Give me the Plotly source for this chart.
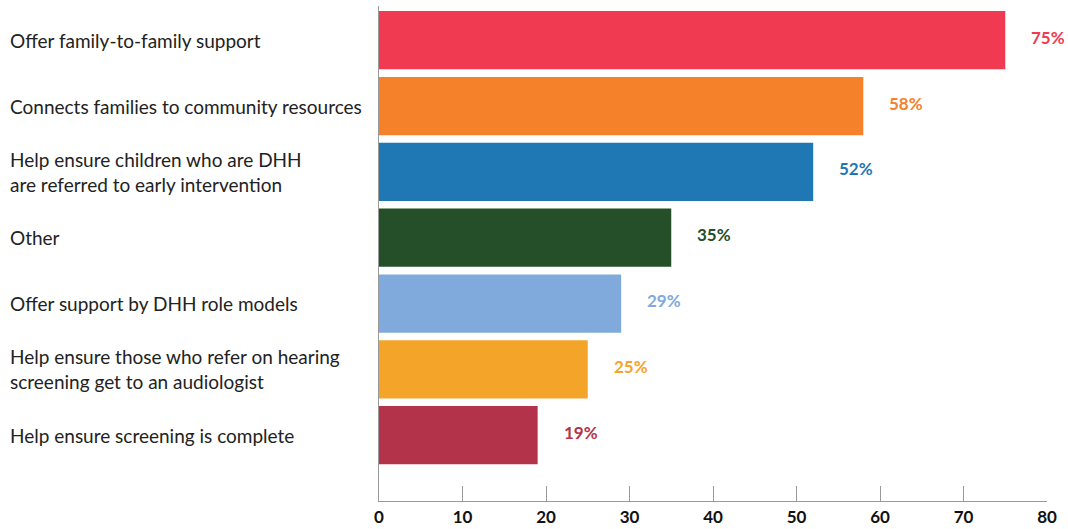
import plotly.graph_objects as go

categories = [
    "Offer family-to-family support",
    "Connects families to community resources",
    "Help ensure children who are DHH<br>are referred to early intervention",
    "Other",
    "Offer support by DHH role models",
    "Help ensure those who refer on hearing<br>screening get to an audiologist",
    "Help ensure screening is complete",
]
values = [75, 58, 52, 35, 29, 25, 19]
value_labels = ["75%", "58%", "52%", "35%", "29%", "25%", "19%"]
colors = ["#EF3A51", "#F5822B", "#1F77B4", "#254F28", "#80AADC", "#F5A42A", "#B3334A"]
x_ticks = [0, 10, 20, 30, 40, 50, 60, 70, 80]

ypos = list(range(len(categories)))

fig = go.Figure()
fig.add_trace(go.Bar(
    x=values, y=ypos, orientation="h",
    marker=dict(color=colors, line=dict(width=0)),
    width=0.885,
    hoverinfo="skip",
))

L, R, T, B = 379, 21, 6, 28
W, H = 1068, 529
plot_w = W - L - R

annotations = []
for i, (c, v, lab, col) in enumerate(zip(categories, values, value_labels, colors)):
    annotations.append(dict(
        x=(8 - L) / plot_w, xref="paper", y=i, yref="y",
        text=c, showarrow=False, xanchor="left", align="left",
        font=dict(family="Lato", size=19, color="#222222"),
    ))
    annotations.append(dict(
        x=v, xref="x", y=i, yref="y", text="<b>" + lab + "</b>",
        showarrow=False, xanchor="left", xshift=24, yshift=3,
        font=dict(family="Lato", size=17, color=col),
    ))

fig.update_layout(
    width=W, height=H,
    margin=dict(l=L, r=R, t=T, b=B, autoexpand=False),
    plot_bgcolor="white", paper_bgcolor="white",
    showlegend=False,
    annotations=annotations,
    xaxis=dict(
        range=[0, 80], tickvals=x_ticks, ticktext=["<b>%d</b>" % t for t in x_ticks],
        showgrid=False, zeroline=False, automargin=False,
        showline=True, linecolor="#9a9a9a", linewidth=1,
        ticks="inside", ticklen=15, tickcolor="#9a9a9a", tickwidth=1,
        tickfont=dict(family="Lato", size=17, color="#111111"),
        ticklabelstandoff=1,
    ),
    yaxis=dict(
        range=[7.0, -0.52], showticklabels=False, showgrid=False, zeroline=False,
        automargin=False,
        showline=True, linecolor="#9a9a9a", linewidth=1, ticks="",
    ),
)

fig.write_html("out.html", config={"displayModeBar": False},
               post_script="document.body.style.margin='0';")
